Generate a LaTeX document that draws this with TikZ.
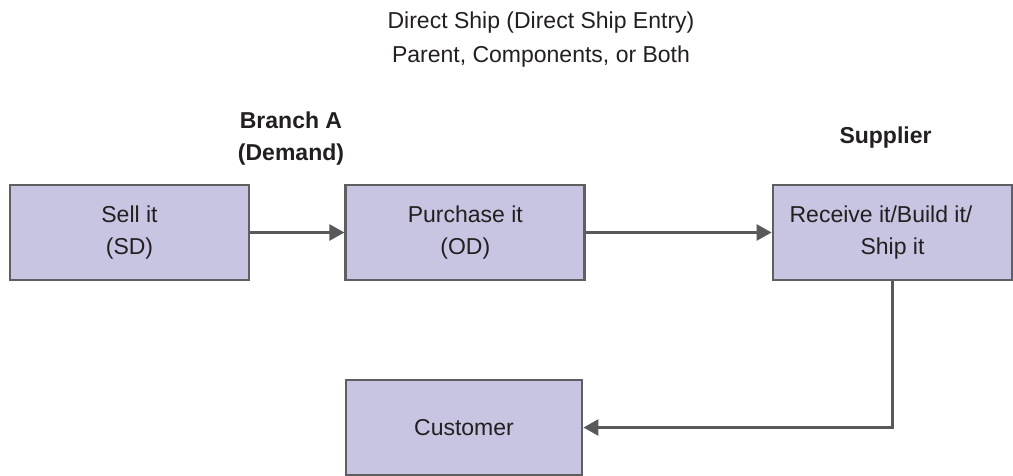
\documentclass[tikz,border=0pt]{standalone}
\usepackage{fontspec}
\setmainfont{Liberation Sans}
\usetikzlibrary{arrows.meta}
\definecolor{boxfill}{HTML}{C7C5E1}
\definecolor{boxline}{HTML}{5E5F61}
\definecolor{txt}{HTML}{231F20}
\definecolor{arr}{HTML}{58595B}
\begin{document}
\begin{tikzpicture}[x=1pt,y=-1pt,
  box/.style={draw=boxline, fill=boxfill, line width=2.8pt, minimum width=239pt, minimum height=95pt, inner sep=0pt, align=center, text=txt, font=\fontsize{23}{32}\selectfont},
  lbl/.style={anchor=base, inner sep=0pt, text=txt, font=\fontsize{23}{32}\selectfont},
  blbl/.style={lbl, font=\fontsize{23}{32}\selectfont\bfseries},
  conn/.style={draw=arr, line width=2.6pt, -{Triangle[length=15pt,width=16pt]}}]
\useasboundingbox (0,0) rectangle (1013,475);
\clip (0,0) rectangle (1013,475);
\fill[white] (0,0) rectangle (1013,475);
% titles
\node[lbl] (t1) at (541,28.5) {Direct Ship (Direct Ship Entry)};
\node[lbl] (t2) at (541,62) {Parent, Components, or Both};
\node[blbl] (b1) at (291,128) {Branch A};
\node[blbl] (b2) at (291,160) {(Demand)};
\node[blbl] (sup) at (885.5,143) {Supplier};
% boxes
\node[box] (sell) at (129.5,232.5) {Sell it\\(SD)};
\node[box] (purch) at (465.3,232.5) {Purchase it\\(OD)};
\node[box] (recv) at (892.5,232.5) {Receive it/Build it/\hspace*{1em}\\Ship it};
\node[box, minimum width=236pt] (cust) at (464,427.5) {Customer};
% connectors
\draw[conn] (sell.east) -- (purch.west);
\draw[conn] (purch.east) -- (recv.west);
\draw[conn] (recv.south) |- (cust.east);
\end{tikzpicture}
\end{document}
